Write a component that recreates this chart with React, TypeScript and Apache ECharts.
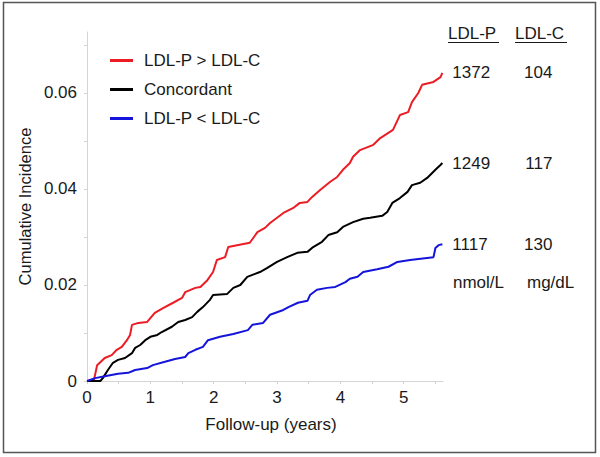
import React, { useEffect, useRef } from "react";
import * as echarts from "echarts";

const seriesNames = ["LDL-P > LDL-C", "Concordant", "LDL-P < LDL-C"];
const seriesColors = ["#ec1c24", "#000000", "#1414dc"];

// Follow-up (years) vs cumulative incidence
const highPCurve: [number, number][] = [
  [0, 0], [0.11, 0.0002], [0.16, 0.0033], [0.28, 0.0048], [0.39, 0.0054], [0.47, 0.0065],
  [0.55, 0.0071], [0.63, 0.0085], [0.68, 0.0096], [0.71, 0.0117], [0.81, 0.0121], [0.95, 0.0123],
  [1.07, 0.0142], [1.2, 0.0152], [1.36, 0.0163], [1.5, 0.0173], [1.55, 0.0185], [1.71, 0.0194],
  [1.79, 0.0196], [1.9, 0.021], [1.99, 0.0227], [2.05, 0.0252], [2.18, 0.0258], [2.23, 0.0279],
  [2.57, 0.0288], [2.69, 0.031], [2.81, 0.0319], [2.89, 0.0329], [3.1, 0.035], [3.25, 0.036],
  [3.36, 0.0371], [3.48, 0.0373], [3.55, 0.0383], [3.68, 0.0398], [3.84, 0.0415], [3.95, 0.0425],
  [4.04, 0.044], [4.15, 0.0454], [4.2, 0.0467], [4.31, 0.0481], [4.52, 0.0492], [4.63, 0.0506],
  [4.83, 0.0523], [4.94, 0.0554], [5.07, 0.056], [5.13, 0.0581], [5.23, 0.06], [5.29, 0.0617],
  [5.47, 0.0623], [5.58, 0.0633], [5.61, 0.0642],
];
const concordantCurve: [number, number][] = [
  [0, 0], [0.21, 0], [0.25, 0.0006], [0.33, 0.0023], [0.41, 0.0038], [0.49, 0.0044], [0.6, 0.0048],
  [0.71, 0.0058], [0.76, 0.0069], [0.84, 0.0075], [0.92, 0.0085], [1.0, 0.0092], [1.11, 0.0096],
  [1.18, 0.0102], [1.34, 0.0113], [1.44, 0.0123], [1.55, 0.0127], [1.66, 0.0133], [1.74, 0.0144],
  [1.83, 0.0154], [1.94, 0.0169], [1.99, 0.0179], [2.21, 0.0181], [2.31, 0.0194], [2.42, 0.02],
  [2.53, 0.0217], [2.73, 0.0227], [2.84, 0.0235], [3.0, 0.0248], [3.16, 0.0258], [3.32, 0.0267],
  [3.48, 0.0269], [3.57, 0.0279], [3.71, 0.029], [3.81, 0.0304], [3.95, 0.031], [4.04, 0.0321],
  [4.2, 0.0331], [4.36, 0.0338], [4.47, 0.034], [4.66, 0.0344], [4.74, 0.0352], [4.82, 0.0371],
  [4.94, 0.0381], [5.06, 0.0394], [5.13, 0.0408], [5.26, 0.0413], [5.37, 0.0423], [5.5, 0.044],
  [5.58, 0.045], [5.61, 0.0454],
];
const lowPCurve: [number, number][] = [
  [0, 0], [0.13, 0.0006], [0.28, 0.001], [0.49, 0.0015], [0.65, 0.0017], [0.76, 0.0023],
  [0.95, 0.0027], [1.04, 0.0033], [1.23, 0.004], [1.39, 0.0046], [1.55, 0.005], [1.6, 0.0058],
  [1.71, 0.0065], [1.83, 0.0071], [1.91, 0.0085], [2.1, 0.0092], [2.31, 0.0098], [2.54, 0.0106],
  [2.61, 0.0117], [2.78, 0.0121], [2.89, 0.0138], [3.1, 0.0148], [3.18, 0.0154], [3.33, 0.0163],
  [3.48, 0.0167], [3.52, 0.0179], [3.63, 0.019], [3.79, 0.0194], [3.92, 0.0196], [4.08, 0.0206],
  [4.15, 0.0213], [4.27, 0.0217], [4.36, 0.0227], [4.58, 0.0233], [4.76, 0.0238], [4.9, 0.0248],
  [5.1, 0.0252], [5.47, 0.0258], [5.5, 0.0277], [5.55, 0.0283], [5.61, 0.0285],
];

const ldlPValues = ["1372", "1249", "1117"];
const ldlCValues = ["104", "117", "130"];

const xTicks = [0, 0.5, 1, 1.5, 2, 2.5, 3, 3.5, 4, 4.5, 5, 5.5];
const xLabels = [0, 1, 2, 3, 4, 5];
const yTicks = [0, 0.01, 0.02, 0.03, 0.04, 0.05, 0.06, 0.07];
const yLabels = [0, 0.02, 0.04, 0.06];

const FONT = 'Arial, "Liberation Sans", sans-serif';
const FS = 17;
const TEXT = "#1a1a1a";
const AXIS = "#d4d4d4";

export default function App() {
  const ref = useRef<HTMLDivElement>(null);
  useEffect(() => {
    if (!ref.current) return;
    const chart = echarts.init(ref.current, undefined, { renderer: "svg" });
    const curves = [highPCurve, concordantCurve, lowPCurve];
    chart.setOption({
      animation: false,
      backgroundColor: "#ffffff",
      textStyle: { fontFamily: FONT },
      grid: { left: 87, top: 32, right: 157, bottom: 76, containLabel: false },
      legend: {
        orient: "vertical",
        left: 110,
        top: 52,
        padding: 0,
        itemWidth: 23,
        itemHeight: 3,
        itemGap: 12,
        icon: "rect",
        data: seriesNames,
        textStyle: { fontFamily: FONT, fontSize: FS, color: TEXT, padding: [0, 0, 0, 6], lineHeight: 17 },
      },
      xAxis: {
        type: "value",
        min: 0,
        max: 5.62,
        interval: 0.5,
        name: "Follow-up (years)",
        nameLocation: "middle",
        nameGap: 35,
        nameTextStyle: { fontFamily: FONT, fontSize: FS, color: TEXT, padding: [0, 0, 0, 12] },
        axisLine: { show: true, onZero: false, lineStyle: { color: AXIS, width: 1 } },
        axisTick: { show: true, length: 3, customValues: xTicks, lineStyle: { color: AXIS } },
        axisLabel: {
          customValues: xLabels,
          margin: 8,
          fontFamily: FONT,
          fontSize: FS,
          color: TEXT,
          formatter: (v: number) => (Number.isInteger(v) ? String(v) : ""),
        },
        splitLine: { show: false },
      },
      yAxis: {
        type: "value",
        min: 0,
        max: 0.0727,
        interval: 0.01,
        name: "Cumulative Incidence",
        nameLocation: "middle",
        nameGap: 54,
        nameTextStyle: { fontFamily: FONT, fontSize: 16.5, color: TEXT },
        axisLine: { show: true, onZero: false, lineStyle: { color: AXIS, width: 1 } },
        axisTick: { show: true, length: 3, customValues: yTicks, lineStyle: { color: AXIS } },
        axisLabel: {
          customValues: yLabels,
          margin: 10,
          fontFamily: FONT,
          fontSize: FS,
          color: TEXT,
          formatter: (v: number) => {
            const r = Math.round(v * 1000) / 1000;
            if (r === 0) return "0";
            return yLabels.some((l) => Math.abs(l - r) < 1e-6) ? r.toFixed(2) : "";
          },
        },
        splitLine: { show: false },
      },
      series: seriesNames.map((name, i) => ({
        name,
        type: "line",
        data: curves[i],
        symbol: "none",
        color: seriesColors[i],
        itemStyle: { color: seriesColors[i] },
        lineStyle: { color: seriesColors[i], width: 2 },
        z: 2 + i,
        endLabel: {
          show: true,
          distance: 10,
          formatter: () => `{p|${ldlPValues[i]}}{c|${ldlCValues[i]}}`,
          rich: {
            p: { width: 62, align: "left", fontFamily: FONT, fontSize: FS, color: TEXT },
            c: { width: 38, align: "right", fontFamily: FONT, fontSize: FS, color: TEXT },
          },
        },
      })),
      graphic: [
        {
          type: "rect",
          shape: { x: 3.5, y: 2.5, width: 592, height: 450 },
          style: { fill: "none", stroke: "#555555", lineWidth: 1.5 },
          silent: true,
        },
        {
          type: "text",
          x: 448,
          y: 33,
          style: { text: "LDL-P", font: `${FS}px ${FONT}`, fill: TEXT, verticalAlign: "middle" },
        },
        { type: "line", shape: { x1: 448, y1: 42.5, x2: 499, y2: 42.5 }, style: { stroke: TEXT, lineWidth: 1 } },
        {
          type: "text",
          x: 515,
          y: 33,
          style: { text: "LDL-C", font: `${FS}px ${FONT}`, fill: TEXT, verticalAlign: "middle" },
        },
        { type: "line", shape: { x1: 515, y1: 42.5, x2: 567, y2: 42.5 }, style: { stroke: TEXT, lineWidth: 1 } },
        {
          type: "text",
          x: 453,
          y: 282,
          style: { text: "nmol/L", font: `${FS}px ${FONT}`, fill: TEXT, verticalAlign: "middle" },
        },
        {
          type: "text",
          x: 527,
          y: 282,
          style: { text: "mg/dL", font: `${FS}px ${FONT}`, fill: TEXT, verticalAlign: "middle" },
        },
      ],
    });
    return () => chart.dispose();
  }, []);
  return (
    <div
      ref={ref}
      style={{ position: "fixed", left: 0, top: 0, width: 600, height: 457 }}
    />
  );
}
